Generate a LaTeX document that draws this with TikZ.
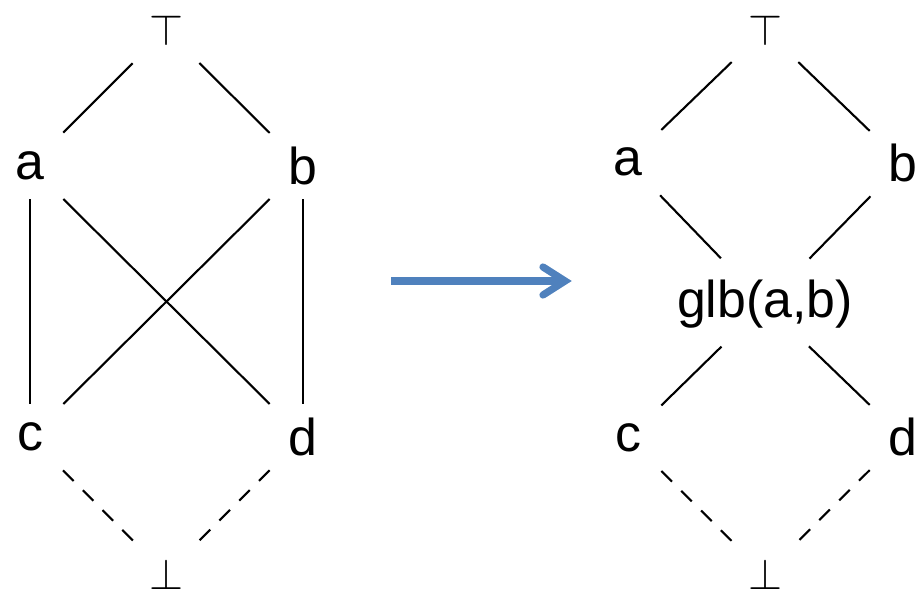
\documentclass[tikz,border=0pt]{standalone}
\usepackage{fontspec}
\setmainfont{Liberation Sans}
\usetikzlibrary{calc}
\definecolor{arrowblue}{HTML}{4F81BD}
\begin{document}
\begin{tikzpicture}[x=0.02cm,y=-0.02cm,
  vtx/.style={font=\fontsize{29.5}{35}\selectfont, minimum width=1.32cm, minimum height=1.32cm, inner sep=0pt},
  lbl/.style={font=\fontsize{29.5}{35}\selectfont, inner sep=0pt},
  edge/.style={line width=1.2pt, line cap=butt},
  dedge/.style={edge, dash pattern=on 0.3cm off 0.26cm},
  bigarrow/.style={line width=0.145cm, color=arrowblue}]
\useasboundingbox (0,0) rectangle (919,597);
% left lattice
\node[vtx] (tL) at (166,30) {$\top$};
\node[vtx] (aL) at (30,166) {a};
\node[vtx] (bL) at (303,166) {b};
\node[vtx] (cL) at (30,437) {c};
\node[vtx] (dL) at (303,437) {d};
\node[vtx] (botL) at (166,574) {$\bot$};
\draw[edge] (tL) -- (aL);
\draw[edge] (tL) -- (bL);
\draw[edge] (aL) -- (cL);
\draw[edge] (bL) -- (dL);
\draw[edge] (aL) -- (dL);
\draw[edge] (bL) -- (cL);
\draw[dedge] (cL) -- (botL);
\draw[dedge] (dL) -- (botL);
% arrow
\coordinate (arrL) at (391,281);
\coordinate (arrR) at (565,281);
\draw[bigarrow, line cap=butt] (arrL) -- (arrR);
\draw[bigarrow, line cap=round, line join=miter] ($(arrR)+(-22,-14)$) -- (arrR) -- ($(arrR)+(-22,14)$);
% right lattice
\node[vtx] (tR) at (765,30) {$\top$};
\node[vtx] (aR) at (628,162) {a};
\node[vtx] (bR) at (903,163) {b};
\node[lbl] (glb) at (765,304) {glb(a,b)};
\node[vtx] (cR) at (628,438) {c};
\node[vtx] (dR) at (903,437) {d};
\node[vtx] (botR) at (765,574) {$\bot$};
\draw[edge] (tR) -- (aR);
\draw[edge] (tR) -- (bR);
\draw[edge, shorten >=1.27cm] (aR) -- (glb.center);
\draw[edge, shorten >=1.27cm] (bR) -- (glb.center);
\draw[edge, shorten <=1.22cm] (glb.center) -- (cR);
\draw[edge, shorten <=1.22cm] (glb.center) -- (dR);
\draw[dedge] (cR) -- (botR);
\draw[dedge] (dR) -- (botR);
\end{tikzpicture}
\end{document}
